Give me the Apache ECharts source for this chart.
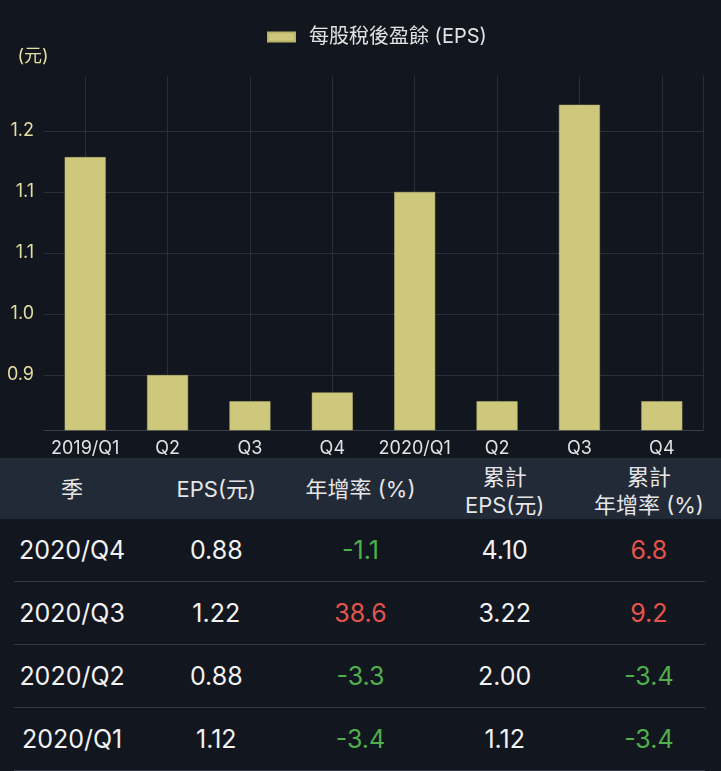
<!DOCTYPE html>
<html>
<head>
<meta charset="utf-8">
<script src="https://cdn.jsdelivr.net/npm/echarts@6/dist/echarts.min.js"></script>
<style>
  html, body { margin:0; padding:0; background:#12161f; }
  body { width:721px; height:771px; position:relative; overflow:hidden;
         font-family: Inter, "Noto Sans CJK TC", "Noto Sans", sans-serif; }
  #chart { position:absolute; left:0; top:0; width:721px; height:458px; }
  #table { position:absolute; left:0; top:458px; width:721px; }
  .hdr { position:absolute; left:0; top:0; width:721px; height:61px; background:#222a38; }
  .cell { position:absolute; text-align:center; width:144px; }
  .hcell { color:#e6e6e6; font-size:22px; line-height:28px; }
  .rcell { color:#f2f2f2; font-size:25px; }
  .sep { position:absolute; left:14px; width:691px; height:1px; background:#323844; }
</style>
</head>
<body>
<div id="chart"></div>
<div id="table"></div>
<script>
// ---- chart data ----
const categories = ['2019/Q1','2019/Q2','2019/Q3','2019/Q4','2020/Q1','2020/Q2','2020/Q3','2020/Q4'];
const xLabels    = ['2019/Q1','Q2','Q3','Q4','2020/Q1','Q2','Q3','Q4'];
const epsValues  = [1.16, 0.91, 0.88, 0.89, 1.12, 0.88, 1.22, 0.88];
const yTicks     = [0.91, 0.98, 1.05, 1.12, 1.19];
const Y_MIN = 0.847, Y_MAX = 1.253;
const seriesName = '每股稅後盈餘 (EPS)';

// ---- table data ----
const tableHeaders = ['季', 'EPS(元)', '年增率 (%)', '累計<br>EPS(元)', '累計<br>年增率 (%)'];
const tableQuarters = ['2020/Q4', '2020/Q3', '2020/Q2', '2020/Q1'];
const tableEps      = ['0.88', '1.22', '0.88', '1.12'];
const tableYoY      = ['-1.1', '38.6', '-3.3', '-3.4'];
const tableCumEps   = ['4.10', '3.22', '2.00', '1.12'];
const tableCumYoY   = ['6.8', '9.2', '-3.4', '-3.4'];

const FONT = 'Inter, "Noto Sans CJK TC", "Noto Sans", sans-serif';
const chart = echarts.init(document.getElementById('chart'), null, {renderer:'canvas'});
chart.setOption({
  backgroundColor: '#12161f',
  animation: false,
  textStyle: { fontFamily: FONT },
  legend: {
    data: [seriesName],
    left: 262, top: 22,
    icon: 'rect', itemWidth: 27, itemHeight: 9, itemGap: 14,
    textStyle: { color: '#e2e2e2', fontSize: 20, fontFamily: FONT, padding: [0, 0, 0, 9] }
  },
  grid: { left: 44, right: 18, top: 76, bottom: 28, containLabel: false },
  xAxis: {
    type: 'category',
    data: categories,
    boundaryGap: true,
    axisLine: { show: true, lineStyle: { color: '#3a404b', width: 1 } },
    axisTick: { show: false, alignWithLabel: true, interval: 0 },
    splitLine: { show: true, alignWithLabel: true, interval: 0, lineStyle: { color: '#2a2f39', width: 1 } },
    axisLabel: {
      color: '#e2e2e2', fontSize: 18, margin: 10, fontFamily: FONT, interval: 0,
      formatter: (v, i) => xLabels[i]
    }
  },
  yAxis: [{
    type: 'value',
    min: Y_MIN, max: Y_MAX,
    name: '(元)',
    nameLocation: 'end',
    nameGap: 10,
    nameTextStyle: { color: '#e4dea2', fontSize: 18, align: 'center', padding: [0, 22, 0, 0], fontFamily: FONT },
    axisLine: { show: false },
    axisTick: { show: false, customValues: yTicks },
    axisLabel: {
      color: '#e4dea2', fontSize: 18, margin: 10, fontFamily: FONT,
      customValues: yTicks,
      formatter: v => v.toFixed(1)
    },
    splitLine: { show: true, lineStyle: { color: '#2a2f39', width: 1 } }
  }, {
    type: 'value',
    position: 'right',
    min: Y_MIN, max: Y_MAX,
    axisLine: { show: true, lineStyle: { color: '#2a2f39', width: 1 } },
    axisTick: { show: false },
    axisLabel: { show: false },
    splitLine: { show: false }
  }],
  series: [{
    name: seriesName,
    type: 'bar',
    data: epsValues,
    barWidth: 41,
    itemStyle: { color: '#cdc87b', borderColor: '#b9b46a', borderWidth: 0.5 }
  }]
});

// ---- table ----
const COLW = 721 / 5;
const tbl = document.getElementById('table');
let html = '<div class="hdr"></div>';
tableHeaders.forEach((h, c) => {
  const twoLine = h.indexOf('<br>') >= 0;
  const top = twoLine ? 5 : 17;
  html += `<div class="cell hcell" style="left:${c*COLW}px;width:${COLW}px;top:${top}px">${h}</div>`;
});
const ROW_TOP = 61, ROW_H = 63;
const green = '#4fb04a', red = '#e5544b';
const colorFor = s => s.trim().startsWith('-') ? green : red;
tableQuarters.forEach((q, r) => {
  const y = ROW_TOP + r * ROW_H;
  const cells = [
    [q, '#f2f2f2'],
    [tableEps[r], '#f2f2f2'],
    [tableYoY[r], colorFor(tableYoY[r])],
    [tableCumEps[r], '#f2f2f2'],
    [tableCumYoY[r], colorFor(tableCumYoY[r])]
  ];
  cells.forEach(([t, col], c) => {
    html += `<div class="cell rcell" style="left:${c*COLW}px;width:${COLW}px;top:${y}px;height:${ROW_H-1}px;line-height:${ROW_H-1}px;color:${col}">${t}</div>`;
  });
  html += `<div class="sep" style="top:${y + ROW_H - 1}px"></div>`;
});
tbl.innerHTML = html;
</script>
</body>
</html>
